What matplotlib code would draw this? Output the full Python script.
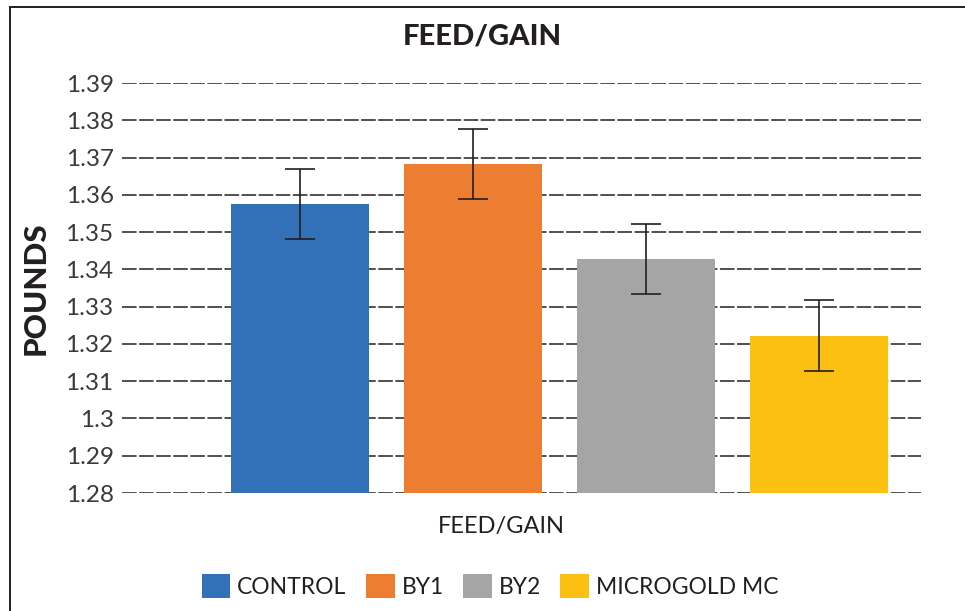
import matplotlib
matplotlib.use("Agg")
import matplotlib.pyplot as plt
from matplotlib.lines import Line2D
from matplotlib.patches import Patch

categories = ["CONTROL", "BY1", "BY2", "MICROGOLD MC"]
values = [1.3575, 1.3682, 1.3428, 1.3222]
errors = [0.0094, 0.0094, 0.0094, 0.0095]
colors = ["#3271B8", "#ED7D31", "#A5A5A5", "#FBC012"]
yticks = [1.28, 1.29, 1.30, 1.31, 1.32, 1.33, 1.34, 1.35, 1.36, 1.37, 1.38, 1.39]
ytick_labels = ["1.28", "1.29", "1.3", "1.31", "1.32", "1.33", "1.34", "1.35", "1.36", "1.37", "1.38", "1.39"]

plt.rcParams['font.family'] = ['Lato', 'DejaVu Sans']
plt.rcParams['lines.scale_dashes'] = False
txt = "#231F20"

fig = plt.figure(figsize=(9.65, 6.11), dpi=100)
ax = fig.add_axes([122/965, 1-493/611, (921-122)/965, (493-83)/611])

x = list(range(len(categories)))
ax.bar(x, [v - 1.28 for v in values], bottom=1.28, width=0.8, color=colors, zorder=2)
ax.errorbar(x, values, yerr=errors, fmt='none', ecolor="#231F20", elinewidth=1.2,
            capsize=10.5, capthick=1.2, zorder=3)

ax.set_ylim(1.28, 1.39)
ax.set_xlim(-1.03, 3.59)
ax.set_yticks(yticks)
ax.set_yticklabels(ytick_labels, fontsize=17.5, color="#3a3a3a")
ax.set_xticks([])
ax.tick_params(axis='y', length=0, pad=6)
for s in ax.spines.values():
    s.set_visible(False)
for yv in yticks:
    ax.axhline(yv, color="#231F20", lw=1.1, linestyle=(0, (10.5, 1.8)), zorder=1)

ax.set_ylabel("POUNDS", fontsize=22.5, fontweight='black', color=txt)
ax.yaxis.set_label_coords(-0.090, 0.5)
fig.text(482/965, 1-37/611, "FEED/GAIN", ha='center', va='center', fontsize=21,
         fontweight='black', color=txt)
fig.text(501/965, 1-527/611, "FEED/GAIN", ha='center', va='center', fontsize=17,
         color=txt)

handles = [Patch(facecolor=c, edgecolor='none') for c in colors]
fig.legend(handles, categories, loc='center', bbox_to_anchor=(490/965, 1-586/611),
           ncol=4, frameon=False, handlelength=1.25, handleheight=1.25,
           handletextpad=0.3, columnspacing=0.85, labelcolor=txt,
           prop={'size': 16.5})

fig.add_artist(Line2D([9.5/965, 1], [1-6.5/611, 1-6.5/611], color="#231F20", lw=1.4,
                      transform=fig.transFigure))
fig.add_artist(Line2D([9.5/965, 9.5/965], [0, 1-6.5/611], color="#231F20", lw=1.4,
                      transform=fig.transFigure))

fig.savefig("out.png", dpi=100)
